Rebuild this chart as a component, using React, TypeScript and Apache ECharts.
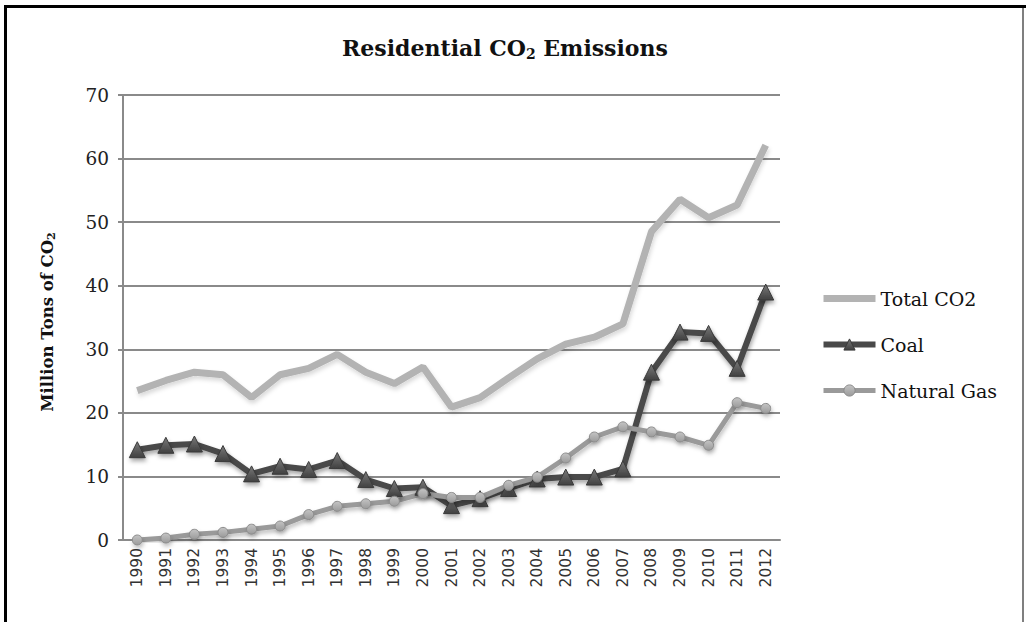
import React, { useEffect, useRef } from "react";
import * as echarts from "echarts";

const years = ["1990","1991","1992","1993","1994","1995","1996","1997","1998","1999","2000","2001","2002","2003","2004","2005","2006","2007","2008","2009","2010","2011","2012"];
const totalCO2 = [23.5,25.1,26.4,26.0,22.4,26.0,27.0,29.2,26.4,24.6,27.2,20.9,22.4,25.5,28.5,30.8,31.9,34.0,48.5,53.6,50.7,52.7,62.1];
const coal = [14.2,14.9,15.1,13.6,10.4,11.6,11.1,12.5,9.5,8.1,8.3,5.4,6.5,8.1,9.6,9.9,9.9,11.2,26.4,32.7,32.5,27.0,39.0];
const naturalGas = [0.0,0.3,0.9,1.2,1.7,2.2,4.0,5.3,5.7,6.1,7.3,6.7,6.7,8.6,9.9,12.9,16.2,17.8,17.0,16.2,14.9,21.6,20.7];
const seriesNames = ["Total CO2", "Coal", "Natural Gas"];

const SERIF = "'DejaVu Serif', 'Liberation Serif', serif";

export default function App() {
  const ref = useRef<HTMLDivElement>(null);
  useEffect(() => {
    const chart = echarts.init(ref.current!, null, { renderer: "svg" });
    const shadow = { shadowColor: "rgba(0,0,0,0.35)", shadowBlur: 4, shadowOffsetX: 1, shadowOffsetY: 3 };
    const coalFill = new echarts.graphic.LinearGradient(0, 0, 0, 1, [
      { offset: 0, color: "#7a7a7a" },
      { offset: 1, color: "#404040" },
    ]);
    const gasFill = new echarts.graphic.LinearGradient(0, 0, 0, 1, [
      { offset: 0, color: "#c4c4c4" },
      { offset: 1, color: "#9a9a9a" },
    ]);
    chart.setOption({
      animation: false,
      backgroundColor: "#ffffff",
      grid: { left: 123, right: 246, top: 95, bottom: 82 },
      xAxis: {
        type: "category",
        data: years,
        boundaryGap: true,
        axisLine: { lineStyle: { color: "#8a8a8a", width: 2 } },
        axisTick: { show: false },
        axisLabel: { rotate: 90, fontFamily: "'DejaVu Sans', sans-serif", fontSize: 15.5, color: "#333", margin: 8, interval: 0 },
      },
      yAxis: {
        type: "value",
        min: 0,
        max: 70,
        interval: 10,
        axisLine: { show: true, lineStyle: { color: "#8a8a8a", width: 2 } },
        axisTick: { show: true, length: 5, lineStyle: { color: "#8a8a8a", width: 2 } },
        splitLine: { lineStyle: { color: "#8a8a8a", width: 2 } },
        axisLabel: { fontFamily: SERIF, fontSize: 18.5, color: "#222", margin: 14 },
      },
      legend: {
        orient: "vertical",
        left: 815,
        top: 284,
        padding: 5,
        itemWidth: 52,
        itemHeight: 14,
        itemGap: 27,
        data: [
          { name: seriesNames[0], lineStyle: { width: 7, color: "#b3b3b3" }, itemStyle: { color: "rgba(0,0,0,0)", borderWidth: 0, opacity: 0 } },
          { name: seriesNames[1], lineStyle: { width: 6, color: "#494949" }, itemStyle: { color: coalFill, borderColor: "#3a3a3a", borderWidth: 1 } },
          { name: seriesNames[2], lineStyle: { width: 5, color: "#9a9a9a" }, itemStyle: { color: gasFill, borderColor: "#8a8a8a", borderWidth: 1 } },
        ],
        textStyle: { fontFamily: SERIF, fontSize: 19, color: "#111" },
      },
      series: [
        {
          name: seriesNames[0],
          type: "line",
          data: totalCO2,
          symbol: "none",
          lineStyle: { color: "#b3b3b3", width: 7, ...shadow, shadowColor: "rgba(0,0,0,0.15)" },
          itemStyle: { color: "#b3b3b3" },
        },
        {
          name: seriesNames[1],
          type: "line",
          data: coal,
          symbol: "triangle",
          symbolSize: 16,
          lineStyle: { color: "#494949", width: 6, ...shadow },
          itemStyle: { color: coalFill, borderColor: "#3a3a3a", borderWidth: 1, ...shadow },
        },
        {
          name: seriesNames[2],
          type: "line",
          data: naturalGas,
          symbol: "circle",
          symbolSize: 10,
          lineStyle: { color: "#9a9a9a", width: 5, ...shadow, shadowColor: "rgba(0,0,0,0.25)" },
          itemStyle: { color: gasFill, borderColor: "#8a8a8a", borderWidth: 1, ...shadow, shadowColor: "rgba(0,0,0,0.25)" },
        },
      ],
      graphic: [
        { type: "line", shape: { x1: 4, y1: 6.5, x2: 1026, y2: 6.5 }, style: { stroke: "#000", lineWidth: 3 } },
        { type: "line", shape: { x1: 5.5, y1: 5, x2: 5.5, y2: 622 }, style: { stroke: "#000", lineWidth: 3 } },
        { type: "line", shape: { x1: 1023, y1: 8, x2: 1023, y2: 622 }, style: { stroke: "#555", lineWidth: 1.5 } },
        {
          type: "text",
          x: 505,
          y: 48,
          style: {
            text: "{a|Residential CO}{s|2}{a| Emissions}",
            align: "center",
            verticalAlign: "middle",
            rich: {
              a: { fontFamily: SERIF, fontWeight: "bold", fontSize: 22, lineHeight: 26, fill: "#111" },
              s: { fontFamily: SERIF, fontWeight: "bold", fontSize: 14, padding: [11, 0, 0, 0], fill: "#111" },
            },
          },
        },
        {
          type: "text",
          x: 47,
          y: 322,
          rotation: Math.PI / 2,
          style: {
            text: "{a|Million Tons of CO}{s|2}",
            align: "center",
            verticalAlign: "middle",
            rich: {
              a: { fontFamily: SERIF, fontWeight: "bold", fontSize: 16.5, lineHeight: 22, fill: "#111" },
              s: { fontFamily: SERIF, fontWeight: "bold", fontSize: 11, padding: [9, 0, 0, 0], fill: "#111" },
            },
          },
        },
      ],
    });
    return () => chart.dispose();
  }, []);
  return (
    <div
      ref={ref}
      style={{ position: "fixed", left: 0, top: 0, width: 1026, height: 622, background: "#fff" }}
    />
  );
}
